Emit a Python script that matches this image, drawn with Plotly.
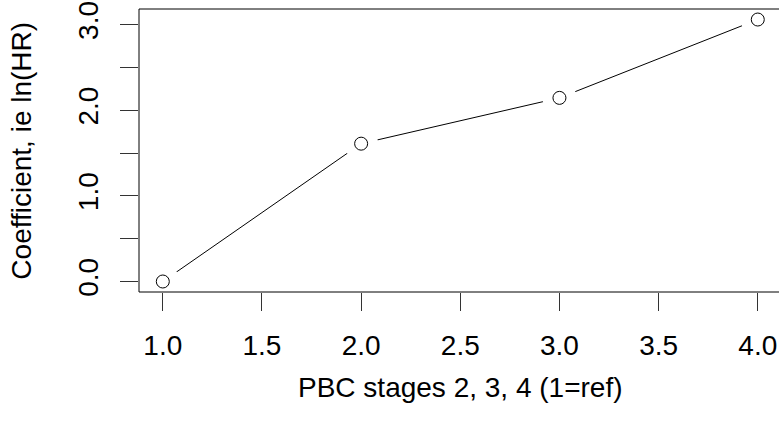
import plotly.graph_objects as go

stages = [1, 2, 3, 4]
coefs = [0.0, 1.61, 2.145, 3.06]
x_ticks = [1.0, 1.5, 2.0, 2.5, 3.0, 3.5, 4.0]
x_ticktext = ["1.0", "1.5", "2.0", "2.5", "3.0", "3.5", "4.0"]
y_ticks = [0.0, 0.5, 1.0, 1.5, 2.0, 2.5, 3.0]
y_ticktext = ["0.0", "", "1.0", "", "2.0", "", "3.0"]
x_title = "PBC stages 2, 3, 4 (1=ref)"
y_title = "Coefficient, ie ln(HR)"

FONT = "Liberation Sans, Arial, sans-serif"
fig = go.Figure()
fig.add_trace(go.Scatter(x=stages, y=coefs, mode="lines",
                         line=dict(color="black", width=1), hoverinfo="skip"))
fig.add_trace(go.Scatter(x=stages, y=coefs, mode="markers",
                         marker=dict(symbol="circle", size=34, color="white",
                                     line=dict(width=0)), hoverinfo="skip"))
fig.add_trace(go.Scatter(x=stages, y=coefs, mode="markers",
                         marker=dict(symbol="circle-open", size=13, color="black",
                                     line=dict(width=1, color="black"))))

fig.update_layout(
    width=779, height=428,
    margin=dict(l=139, r=0, t=9, b=136),
    paper_bgcolor="white", plot_bgcolor="white",
    showlegend=False,
    font=dict(family=FONT, size=28, color="black"),
    xaxis=dict(range=[0.88, 4.107], tickvals=x_ticks, ticktext=x_ticktext,
               ticks="outside", ticklen=18, tickwidth=1, tickcolor="#333",
               showgrid=False, zeroline=False, showline=False,
               ticklabelstandoff=10, layer="above traces"),
    yaxis=dict(range=[-0.1226, 3.183], tickvals=y_ticks, ticktext=y_ticktext,
               ticks="outside", ticklen=18, tickwidth=1, tickcolor="#333",
               tickangle=-90,
               showgrid=False, zeroline=False, showline=False,
               ticklabelstandoff=11, layer="above traces"),
    shapes=[dict(type="rect", xref="paper", yref="paper", x0=0, x1=1.05, y0=0, y1=1,
                 line=dict(color="black", width=1), layer="above")],
    annotations=[
        dict(text=x_title, xref="paper", yref="paper", x=0.5016, y=-0.339,
             xanchor="center", yanchor="middle", showarrow=False,
             font=dict(family=FONT, size=28, color="black")),
        dict(text=y_title, xref="paper", yref="paper", x=-0.185, y=0.498,
             xanchor="center", yanchor="middle", showarrow=False, textangle=-90,
             font=dict(family=FONT, size=28, color="black")),
    ],
)
fig.write_html("out.html")
